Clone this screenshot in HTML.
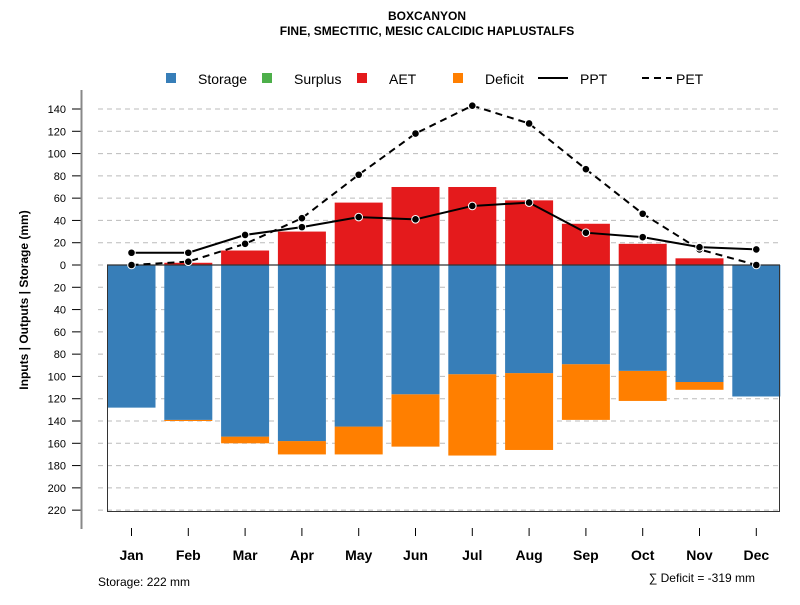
<!DOCTYPE html>
<html><head><meta charset="utf-8"><style>
body{margin:0;background:#fff;width:800px;height:600px;overflow:hidden;font-family:"Liberation Sans",sans-serif}
</style></head><body>
<svg id="c" width="800" height="600" xmlns="http://www.w3.org/2000/svg" font-family="Liberation Sans, sans-serif">
<text x="427" y="20" text-anchor="middle" font-size="12" font-weight="bold">BOXCANYON</text>
<text x="427" y="35" text-anchor="middle" font-size="12" font-weight="bold">FINE, SMECTITIC, MESIC CALCIDIC HAPLUSTALFS</text>
<g id="legend">
<rect x="166" y="73" width="10" height="10" fill="#377eb8"/>
<text x="198" y="84" font-size="14">Storage</text>
<rect x="262" y="73" width="10" height="10" fill="#4daf4a"/>
<text x="294" y="84" font-size="14">Surplus</text>
<rect x="357" y="73" width="10" height="10" fill="#e41a1c"/>
<text x="389" y="84" font-size="14">AET</text>
<rect x="453" y="73" width="10" height="10" fill="#ff7f00"/>
<text x="485" y="84" font-size="14">Deficit</text>
<line x1="538" y1="78" x2="568" y2="78" stroke="#000" stroke-width="2"/>
<text x="580" y="84" font-size="14">PPT</text>
<line x1="642" y1="78" x2="672" y2="78" stroke="#000" stroke-width="2" stroke-dasharray="7,5"/>
<text x="676" y="84" font-size="14">PET</text>
</g>
<text transform="translate(28,300) rotate(-90)" text-anchor="middle" font-size="12" font-weight="bold">Inputs | Outputs | Storage    (mm)</text>
<text x="98" y="586" font-size="12">Storage: 222 mm</text>
<text x="755" y="582" text-anchor="end" font-size="12">∑ Deficit = -319 mm</text>
<g id="plot"></g>
</svg>
<script>
const months=["Jan","Feb","Mar","Apr","May","Jun","Jul","Aug","Sep","Oct","Nov","Dec"];
const storage=[128,139,154,158,145,116,98,97,89,95,105,118];
const deficit=[0,1,6,12,25,47,73,69,50,27,7,0];
const aet=[0,2,13,30,56,70,70,58,37,19,6,0];
const ppt=[11,11,27,34,43,41,53,56,29,25,16,14];
const pet=[0,3,19,42,81,118,143,127,86,46,14,0];
const yTicks=[140,120,100,80,60,40,20,0,-20,-40,-60,-80,-100,-120,-140,-160,-180,-200,-220];
const NS="http://www.w3.org/2000/svg";
const g=document.getElementById('plot');
const y=v=>265-v*1.1143;
const x=i=>131.5+i*56.8;
const bw=48;
function mk(t,a){const e=document.createElementNS(NS,t);for(const k in a)e.setAttribute(k,a[k]);g.appendChild(e);return e;}
yTicks.forEach(v=>{
 let l=mk('line',{x1:98,x2:780,y1:y(v),y2:y(v),stroke:'#bbb','stroke-dasharray':'5,4'});
 
 let t=mk('line',{x1:72,x2:81,y1:y(v),y2:y(v),stroke:'#000'});
 
 let tx=mk('text',{x:66,y:y(v)+4,'text-anchor':'end','font-size':'11'});tx.textContent=Math.abs(v);
 
});
let ax=mk('line',{x1:81.5,x2:81.5,y1:90,y2:529,stroke:'#888','stroke-width':2});

months.forEach((m,i)=>{
 let cx=x(i);
 let d=mk('rect',{x:cx-bw/2,y:y(-storage[i]),width:bw,height:deficit[i]*1.1143,fill:'#ff7f00'});
 
 let s=mk('rect',{x:cx-bw/2,y:y(0),width:bw,height:storage[i]*1.1143,fill:'#377eb8'});
 
 let a=mk('rect',{x:cx-bw/2,y:y(aet[i]),width:bw,height:aet[i]*1.1143,fill:'#e41a1c'});
 
 let tk=mk('line',{x1:cx,x2:cx,y1:528,y2:536,stroke:'#000'});
 
 let lb=mk('text',{x:cx,y:560,'text-anchor':'middle','font-size':'14','font-weight':'bold'});lb.textContent=m;
 
});
let fr=mk('path',{d:`M107.5 ${y(0)} V511.5 H779.5 V${y(0)}`,fill:'none',stroke:'#333'});

let zl=mk('line',{x1:107,x2:780,y1:y(0),y2:y(0),stroke:'#333','stroke-width':1.2});

function series(arr,name,dash){
 let p=mk('polyline',{points:arr.map((v,i)=>x(i)+','+y(v)).join(' '),fill:'none',stroke:'#000','stroke-width':2,'stroke-dasharray':dash});
 
 arr.forEach((v,i)=>{let c=mk('circle',{cx:x(i),cy:y(v),r:3.8,fill:'#000',stroke:'#fff','stroke-width':1});
 });
}
series(pet,'pet','7,5');
series(ppt,'ppt','none');
</script>
</body></html>
